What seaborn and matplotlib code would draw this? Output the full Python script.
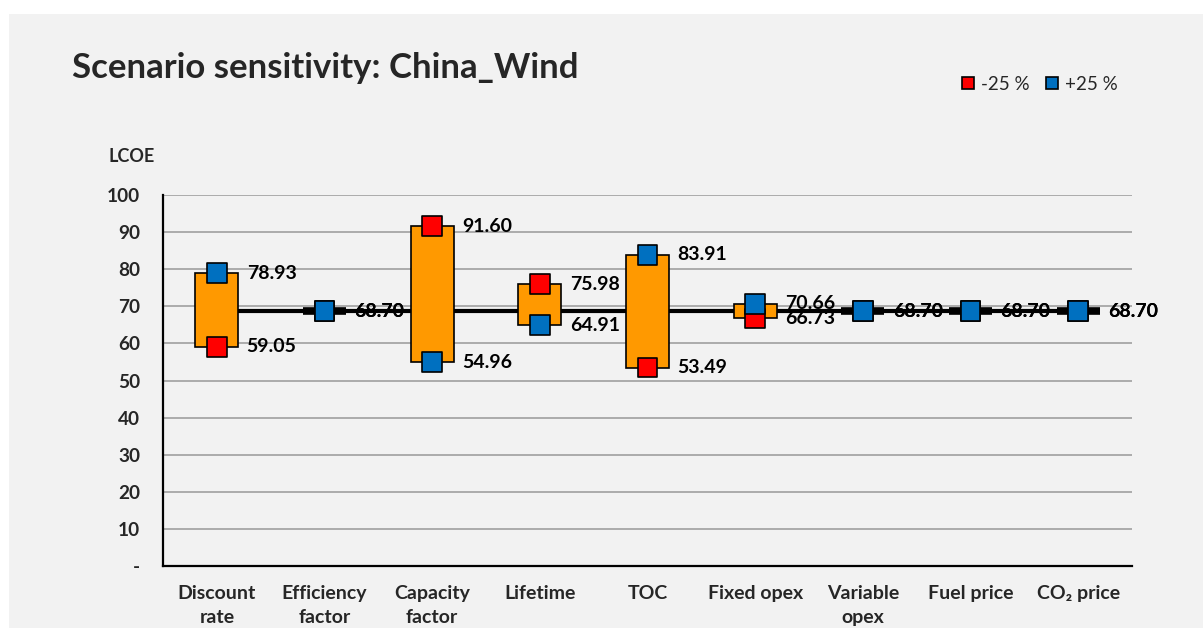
import numpy as np
import pandas as pd
import matplotlib
matplotlib.use("Agg")
import matplotlib.pyplot as plt
from matplotlib.patches import Rectangle
from matplotlib.lines import Line2D
import seaborn as sns

# Sensitivity drivers and LCOE results
categories = ["Discount\nrate", "Efficiency\nfactor", "Capacity\nfactor", "Lifetime", "TOC",
              "Fixed opex", "Variable\nopex", "Fuel price", "CO\u2082 price"]
base_lcoe = [68.70, 68.70, 68.70, 68.70, 68.70, 68.70, 68.70, 68.70, 68.70]
minus_25 = [59.05, 68.70, 91.60, 75.98, 53.49, 66.73, 68.70, 68.70, 68.70]
plus_25 = [78.93, 68.70, 54.96, 64.91, 83.91, 70.66, 68.70, 68.70, 68.70]
y_ticks = [0, 10, 20, 30, 40, 50, 60, 70, 80, 90, 100]
y_tick_labels = ["-", "10", "20", "30", "40", "50", "60", "70", "80", "90", "100"]
legend_labels = ["-25 %", "+25 %"]
title = "Scenario sensitivity: China_Wind"

sns.set_style("white")
plt.rcParams["font.family"] = ["Lato", "DejaVu Sans"]

BG = "#f2f2f2"
ORANGE = "#ff9900"
RED = "#ff0000"
BLUE = "#0070c0"
W = "bold"

fig = plt.figure(figsize=(12.03, 6.28), dpi=100)
fig.patch.set_facecolor("white")
fig.patches.append(Rectangle((9 / 1203, 0), 1, 1 - 14 / 628, transform=fig.transFigure,
                             facecolor=BG, edgecolor="none", zorder=-10))

ax = fig.add_axes([163 / 1203, 1 - 566 / 628, (1132 - 163) / 1203, (566 - 195) / 628])
ax.set_facecolor("none")

pos = np.arange(len(categories))
box_w = 0.4
df = pd.DataFrame({"pos": pos, "base": base_lcoe, "minus": minus_25, "plus": plus_25})

# Base-case line through all drivers
sns.lineplot(data=df, x="pos", y="base", color="black", linewidth=3.0, ax=ax, zorder=2,
             solid_capstyle="butt")
ax.hlines(df["base"], df["pos"] - box_w / 2, df["pos"] + box_w / 2, color="black",
          linewidth=5.5, zorder=2)

# Floating range boxes
lo = np.minimum(df["minus"], df["plus"])
hi = np.maximum(df["minus"], df["plus"])
ax.bar(df["pos"], hi - lo, bottom=lo, width=box_w, color=ORANGE, edgecolor="black",
       linewidth=1.2, zorder=3)

# Scenario markers
long_df = pd.concat([
    pd.DataFrame({"pos": pos, "LCOE": minus_25, "case": legend_labels[0]}),
    pd.DataFrame({"pos": pos, "LCOE": plus_25, "case": legend_labels[1]}),
])
sns.scatterplot(data=long_df, x="pos", y="LCOE", hue="case",
                palette={legend_labels[0]: RED, legend_labels[1]: BLUE},
                marker="s", s=200, edgecolor="black", linewidth=1.2, ax=ax, zorder=4,
                legend=False)

# Value labels right of each box
for p, a, b in zip(pos, minus_25, plus_25):
    for v in (a, b):
        ax.annotate(f"{v:.2f}", xy=(p + box_w / 2, v), xytext=(6, 0),
                    textcoords="offset points", ha="left", va="center",
                    fontsize=14, fontweight=W, color="black", zorder=5)

ax.set_xlim(-0.5, len(categories) - 0.5)
ax.set_ylim(0, 100)
ax.set_yticks(y_ticks)
ax.set_yticklabels(y_tick_labels, fontsize=13.7, fontweight=W)
ax.yaxis.grid(True, color="#a6a6a6", linewidth=1.3, zorder=0)
ax.set_axisbelow(True)
ax.tick_params(axis="y", length=0, pad=16.5)

ax.set_xticks(pos)
ax.set_xticklabels(categories, fontsize=14, fontweight=W, linespacing=1.45)
ax.set_xticks(np.arange(len(categories) + 1) - 0.5, minor=True)
ax.tick_params(axis="x", which="major", length=0, pad=14)
ax.tick_params(axis="x", which="minor", length=10, width=1.3, direction="inout", color="black")
ax.set_xlabel("")
ax.set_ylabel("")

for side in ("top", "right"):
    ax.spines[side].set_visible(False)
for side in ("left", "bottom"):
    ax.spines[side].set_color("black")
    ax.spines[side].set_linewidth(1.6)

fig.text(72 / 1203, 1 - 68 / 628, title, fontsize=25, fontweight=W, va="center", ha="left")
fig.text(132 / 1203, 1 - 157 / 628, "LCOE", fontsize=13, fontweight=W, va="center", ha="center")

handles = [Line2D([], [], linestyle="none", marker="s", markersize=9, markerfacecolor=c,
                  markeredgecolor="black", markeredgewidth=1.2) for c in (RED, BLUE)]
fig.legend(handles, legend_labels, loc="center right", bbox_to_anchor=(1135 / 1203, 1 - 84 / 628),
           ncol=2, frameon=False, fontsize=13.5, handletextpad=0.3, columnspacing=0.8,
           handlelength=0.8)

fig.savefig("out.png", dpi=100, facecolor=fig.get_facecolor())
